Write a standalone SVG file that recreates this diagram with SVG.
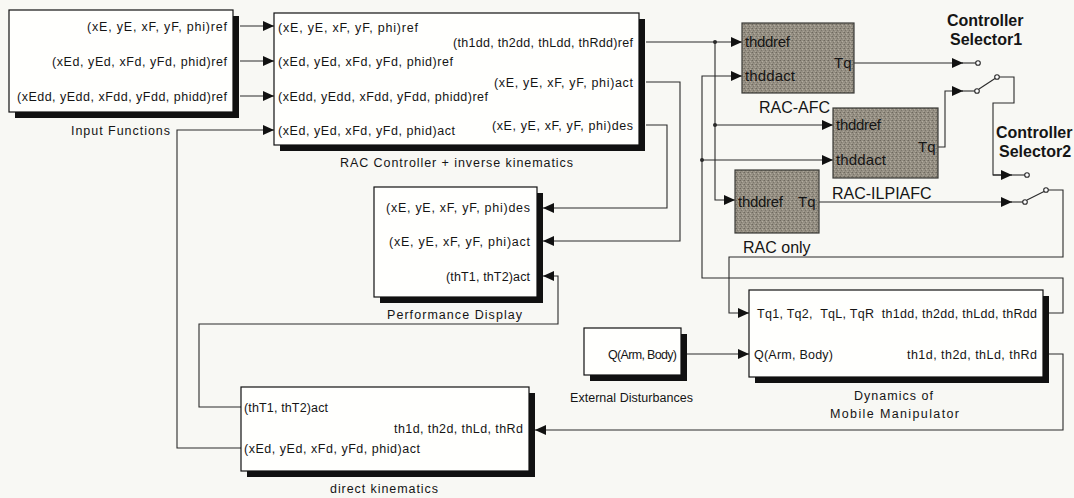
<svg xmlns="http://www.w3.org/2000/svg" width="1074" height="498" viewBox="0 0 1074 498">
<style>
.bg{fill:#f8f8f4}
.box{fill:#fffffd;stroke:#111;stroke-width:1.2}
.sh{fill:#111}
.gray{fill:url(#tex);stroke:#3a3a36;stroke-width:1.2}
.t{font-family:"Liberation Sans",Arial,sans-serif;font-size:12.5px;fill:#151515}
.g{font-family:"Liberation Sans",Arial,sans-serif;font-size:15px;fill:#151515}
.gl{font-family:"Liberation Sans",Arial,sans-serif;font-size:16px;fill:#151515}
.b{font-family:"Liberation Sans",Arial,sans-serif;font-size:16px;font-weight:bold;fill:#151515}
.c path,.c polyline,.c line{fill:none;stroke:#2a2a2a;stroke-width:1.1}
.arr{marker-end:url(#ah)}
.sw{fill:#fff;stroke:#2a2a2a;stroke-width:1.1}
.dot{fill:#2a2a2a}
</style>
<defs>
<marker id="ah" markerUnits="userSpaceOnUse" markerWidth="12" markerHeight="10" refX="11" refY="5" orient="auto">
<path d="M0,0 L11,5 L0,10 z" fill="#111"/>
</marker>
<pattern id="tex" width="4" height="4" patternUnits="userSpaceOnUse">
<rect width="4" height="4" fill="#958f83"/>
<rect x="0" y="0" width="1" height="1" fill="#6e695f"/>
<rect x="2" y="1" width="1" height="1" fill="#b3ada0"/>
<rect x="1" y="2" width="1" height="1" fill="#7a756a"/>
<rect x="3" y="3" width="1" height="1" fill="#aaa497"/>
<rect x="3" y="0" width="1" height="1" fill="#847f73"/>
</pattern>
</defs>
<rect class="bg" x="0" y="0" width="1074" height="498"/>

<g id="connectors" class="c">
<line class="arr" x1="240" y1="26" x2="274" y2="26"/>
<line class="arr" x1="240" y1="61" x2="274" y2="61"/>
<line class="arr" x1="240" y1="96" x2="274" y2="96"/>
<polyline class="arr" points="241,448 177,448 177,130 274,130"/>
<line class="arr" x1="646" y1="42" x2="742" y2="42"/>
<polyline class="arr" points="715,42 715,200 735,200"/>
<line class="arr" x1="715" y1="125" x2="833" y2="125"/>
<polyline class="arr" points="1043,313 1063,313 1063,278 702,278 702,76 742,76"/>
<line class="arr" x1="702" y1="160" x2="833" y2="160"/>
<polyline class="arr" points="646,82 680,82 680,241 543,241"/>
<polyline class="arr" points="646,125 667,125 667,208 543,208"/>
<line class="arr" x1="854" y1="63" x2="963" y2="63"/>
<polyline class="arr" points="938,147 945,147 945,91 963,91"/>
<polyline points="997,77 1014,77 1014,103 993,103 993,175 1003,175"/>
<line class="arr" x1="993" y1="175" x2="1012" y2="175"/>
<line class="arr" x1="819" y1="202" x2="1012" y2="202"/>
<polyline class="arr" points="1046,190 1063,190 1063,257 729,257 729,313 749,313"/>
<line class="arr" x1="687" y1="354" x2="749" y2="354"/>
<polyline class="arr" points="1048,354 1063,354 1063,430 535,430"/>
<polyline class="arr" points="241,407 199,407 199,324 558,324 558,276 543,276"/>
<circle class="dot" cx="715" cy="42" r="2"/>
<circle class="dot" cx="715" cy="125" r="2"/>
<circle class="dot" cx="702" cy="160" r="2"/>
</g>

<g id="selector1">
<line x1="962" y1="63" x2="976" y2="63" stroke="#2a2a2a" stroke-width="1.1"/>
<line x1="962" y1="91" x2="975" y2="91" stroke="#2a2a2a" stroke-width="1.1"/>
<line x1="979" y1="89" x2="995" y2="78.5" stroke="#2a2a2a" stroke-width="1.1"/>
<circle class="sw" cx="978" cy="63" r="2.3"/>
<circle class="sw" cx="977" cy="91" r="2.3"/>
<circle class="sw" cx="997" cy="77" r="2.3"/>
<text class="b" x="947" y="26">Controller</text>
<text class="b" x="950" y="45">Selector1</text>
</g>

<g id="selector2">
<line x1="1011" y1="175" x2="1025" y2="175" stroke="#2a2a2a" stroke-width="1.1"/>
<line x1="1011" y1="202" x2="1023" y2="202" stroke="#2a2a2a" stroke-width="1.1"/>
<line x1="1027" y1="200" x2="1044" y2="191.5" stroke="#2a2a2a" stroke-width="1.1"/>
<circle class="sw" cx="1027" cy="175" r="2.3"/>
<circle class="sw" cx="1025" cy="202" r="2.3"/>
<circle class="sw" cx="1046" cy="190" r="2.3"/>
<text class="b" x="996" y="138">Controller</text>
<text class="b" x="999" y="157">Selector2</text>
</g>

<g id="input-functions">
<rect class="sh" x="15" y="16" width="224" height="102"/>
<rect class="box" x="9" y="10" width="224" height="102"/>
<text class="t" x="87" y="30.5" textLength="140">(xE, yE, xF, yF, phi)ref</text>
<text class="t" x="52" y="65.5" textLength="175">(xEd, yEd, xFd, yFd, phid)ref</text>
<text class="t" x="17" y="100.5" textLength="210">(xEdd, yEdd, xFdd, yFdd, phidd)ref</text>
<text class="t" x="71" y="134.5" textLength="99">Input Functions</text>
</g>

<g id="rac-controller">
<rect class="sh" x="280" y="19" width="365" height="132"/>
<rect class="box" x="274" y="13" width="365" height="132"/>
<text class="t" x="278" y="31.5" textLength="140">(xE, yE, xF, yF, phi)ref</text>
<text class="t" x="278" y="65.5" textLength="175">(xEd, yEd, xFd, yFd, phid)ref</text>
<text class="t" x="278" y="100.5" textLength="210">(xEdd, yEdd, xFdd, yFdd, phidd)ref</text>
<text class="t" x="278" y="134.5" textLength="177">(xEd, yEd, xFd, yFd, phid)act</text>
<text class="t" x="453" y="46.5" textLength="180">(th1dd, th2dd, thLdd, thRdd)ref</text>
<text class="t" x="494" y="86.5" textLength="139">(xE, yE, xF, yF, phi)act</text>
<text class="t" x="492" y="129.5" textLength="141">(xE, yE, xF, yF, phi)des</text>
<text class="t" x="340" y="166.5" textLength="233">RAC Controller + inverse kinematics</text>
</g>

<g id="performance-display">
<rect class="sh" x="380" y="193" width="163" height="110"/>
<rect class="box" x="374" y="187" width="163" height="110"/>
<text class="t" x="386" y="211.5" textLength="144">(xE, yE, xF, yF, phi)des</text>
<text class="t" x="389" y="245.5" textLength="141">(xE, yE, xF, yF, phi)act</text>
<text class="t" x="446" y="280.5" textLength="84">(thT1, thT2)act</text>
<text class="t" x="387" y="318.5" textLength="135">Performance Display</text>
</g>

<g id="direct-kinematics">
<rect class="sh" x="247" y="393" width="288" height="84"/>
<rect class="box" x="241" y="387" width="288" height="84"/>
<text class="t" x="244" y="411.5" textLength="84">(thT1, thT2)act</text>
<text class="t" x="394" y="432.5" textLength="129">th1d, th2d, thLd, thRd</text>
<text class="t" x="244" y="452.5" textLength="176">(xEd, yEd, xFd, yFd, phid)act</text>
<text class="t" x="330" y="493" textLength="108">direct kinematics</text>
</g>

<g id="dynamics">
<rect class="sh" x="755" y="296" width="294" height="87"/>
<rect class="box" x="749" y="290" width="294" height="87"/>
<text class="t" x="757" y="317.5" textLength="280" xml:space="preserve">Tq1, Tq2,  TqL, TqR  th1dd, th2dd, thLdd, thRdd</text>
<text class="t" x="754" y="358.5" textLength="79">Q(Arm, Body)</text>
<text class="t" x="907" y="358.5" textLength="130">th1d, th2d, thLd, thRd</text>
<text class="t" x="854" y="399.5" textLength="79">Dynamics of</text>
<text class="t" x="830" y="417.5" textLength="129">Mobile Manipulator</text>
</g>

<g id="external-disturbances">
<rect class="sh" x="590" y="334" width="97" height="47"/>
<rect class="box" x="584" y="328" width="97" height="47"/>
<text class="t" x="608" y="358.5" textLength="69">Q(Arm, Body)</text>
<text class="t" x="570" y="401.5" textLength="123">External Disturbances</text>
</g>

<g id="rac-afc">
<rect class="gray" x="742" y="23" width="112" height="70"/>
<text class="g" x="745" y="47" textLength="45">thddref</text>
<text class="g" x="745" y="81" textLength="50">thddact</text>
<text class="g" x="834" y="68">Tq</text>
<text class="gl" x="759" y="113">RAC-AFC</text>
</g>

<g id="rac-ilpiafc">
<rect class="gray" x="833" y="108" width="105" height="70"/>
<text class="g" x="836" y="130" textLength="45">thddref</text>
<text class="g" x="836" y="165" textLength="50">thddact</text>
<text class="g" x="918" y="152">Tq</text>
<text class="gl" x="832" y="198.5">RAC-ILPIAFC</text>
</g>

<g id="rac-only">
<rect class="gray" x="735" y="170" width="84" height="63"/>
<text class="g" x="738" y="207" textLength="45">thddref</text>
<text class="g" x="798" y="207">Tq</text>
<text class="gl" x="743" y="252.5">RAC only</text>
</g>
</svg>
